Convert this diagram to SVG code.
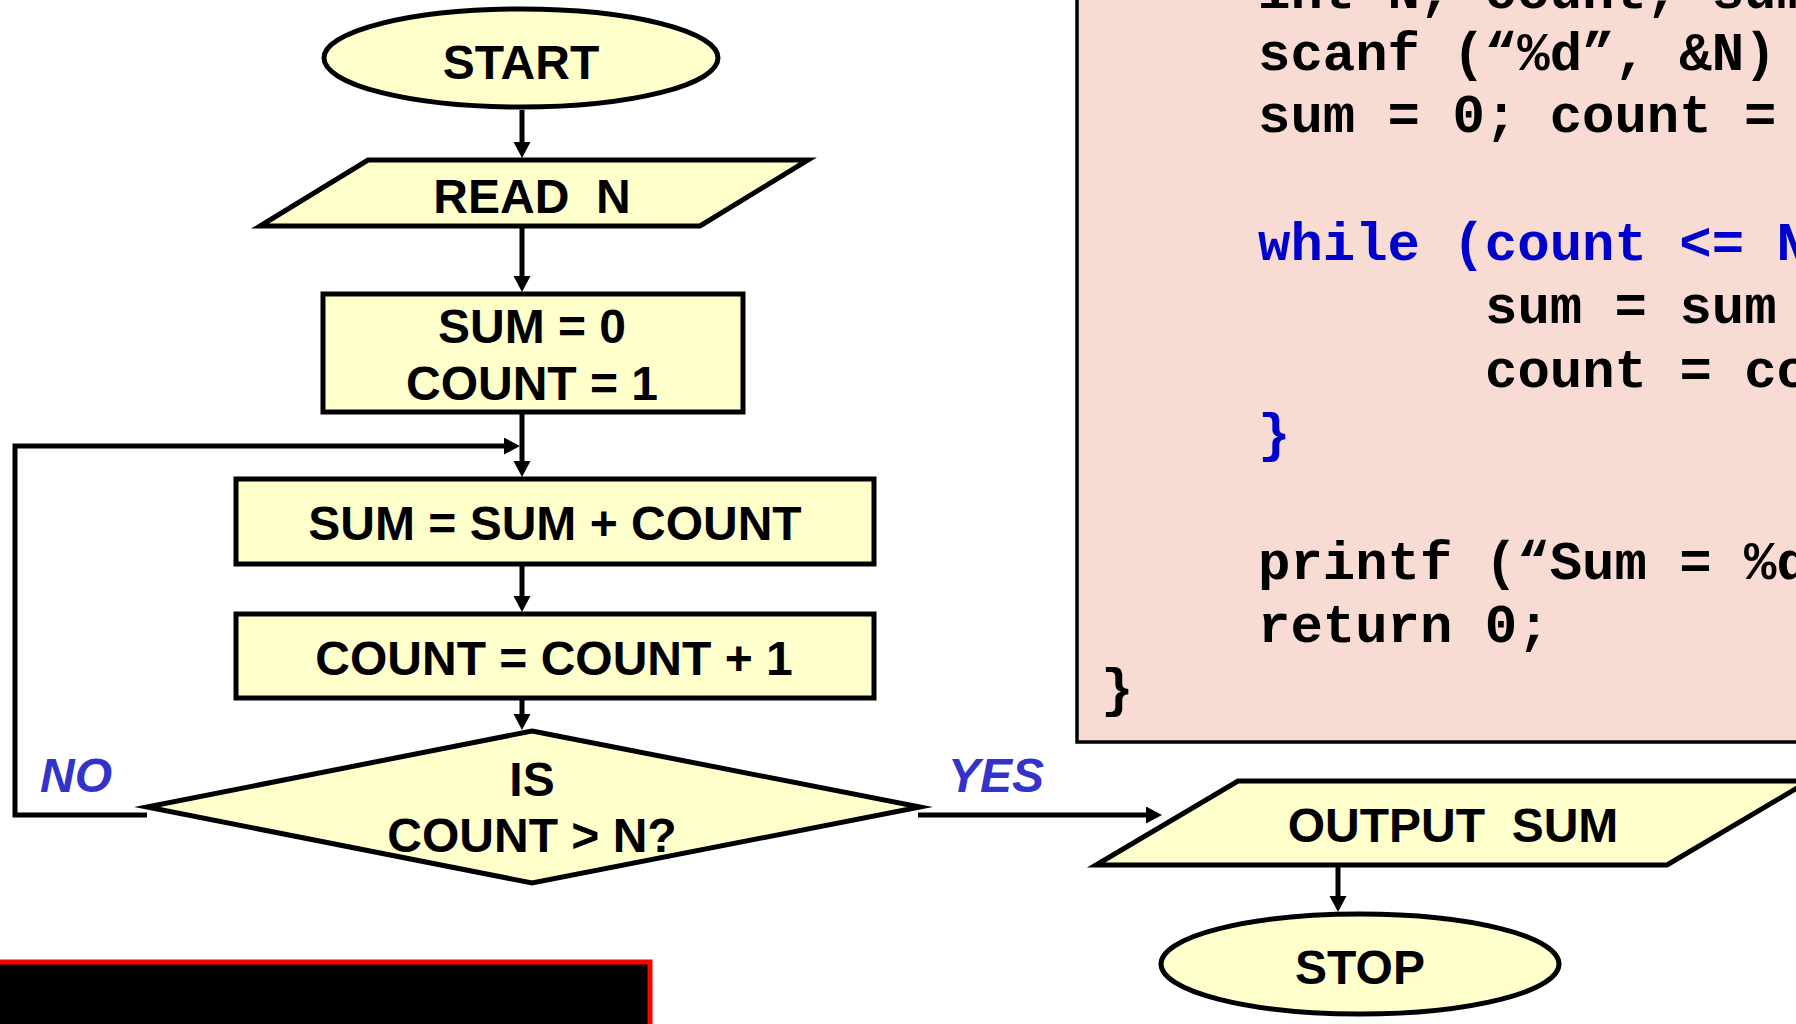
<svg xmlns="http://www.w3.org/2000/svg" width="1796" height="1024" viewBox="0 0 1796 1024">
<style>
.shape{fill:#FFFFCC;stroke:#000;stroke-width:5;stroke-miterlimit:10}
.lbl{font-family:"Liberation Sans",Arial,sans-serif;font-weight:bold;font-size:48px;fill:#000;text-anchor:middle}
.yn{font-family:"Liberation Sans",Arial,sans-serif;font-weight:bold;font-style:italic;font-size:48px;fill:#3333CC}
.code{font-family:"Liberation Mono","Courier New",monospace;font-weight:bold;font-size:54px;fill:#000}
.kw{fill:#0000CC}
.conn{fill:none;stroke:#000;stroke-width:5}
</style>
<defs>
<marker id="ah" markerUnits="userSpaceOnUse" markerWidth="18" markerHeight="18" refX="4" refY="8.5" orient="auto">
<path d="M0,0 L16,8.5 L0,17 z" fill="#000"/>
</marker>
</defs>
<rect width="1796" height="1024" fill="#FFFFFF"/>

<g id="code">
<rect x="1077" y="-10" width="740" height="752" fill="#F8DCD4" stroke="#000" stroke-width="3.5"/>
<text class="code" xml:space="preserve" x="1258" y="8">int N, count, sum;</text>
<text class="code" xml:space="preserve" x="1258" y="70">scanf (“%d”, &amp;N)</text>
<text class="code" xml:space="preserve" x="1258" y="132">sum = 0; count = 1;</text>
<text class="code kw" xml:space="preserve" x="1258" y="260">while (count &lt;= N) {</text>
<text class="code" xml:space="preserve" x="1485" y="323">sum = sum + count;</text>
<text class="code" xml:space="preserve" x="1485" y="387">count = count + 1;</text>
<text class="code kw" xml:space="preserve" x="1258" y="451">}</text>
<text class="code" xml:space="preserve" x="1258" y="579">printf (“Sum = %d\n”, sum);</text>
<text class="code" xml:space="preserve" x="1258" y="642">return 0;</text>
<text class="code" xml:space="preserve" x="1101" y="706">}</text>
</g>

<g id="connectors">
<path class="conn" d="M522,110 V146" marker-end="url(#ah)"/>
<path class="conn" d="M522,227 V280" marker-end="url(#ah)"/>
<path class="conn" d="M522,412 V465" marker-end="url(#ah)"/>
<path class="conn" d="M147,815 H15 V446 H508" marker-end="url(#ah)"/>
<path class="conn" d="M522,564 V600" marker-end="url(#ah)"/>
<path class="conn" d="M522,698 V718" marker-end="url(#ah)"/>
<path class="conn" d="M918,815 H1150" marker-end="url(#ah)"/>
<path class="conn" d="M1338,865 V900" marker-end="url(#ah)"/>
</g>

<g id="start">
<ellipse class="shape" cx="521" cy="58" rx="197" ry="49"/>
<text class="lbl" x="521" y="79">START</text>
</g>

<g id="read">
<polygon class="shape" points="368,160 808,160 700,226 260,226"/>
<text class="lbl" xml:space="preserve" x="532" y="213">READ  N</text>
</g>

<g id="init">
<rect class="shape" x="323" y="294" width="420" height="118"/>
<text class="lbl" x="532" y="343">SUM = 0</text>
<text class="lbl" x="532" y="400">COUNT = 1</text>
</g>

<g id="sum">
<rect class="shape" x="236" y="479" width="638" height="85"/>
<text class="lbl" x="555" y="540">SUM = SUM + COUNT</text>
</g>

<g id="count">
<rect class="shape" x="236" y="614" width="638" height="84"/>
<text class="lbl" x="554" y="675">COUNT = COUNT + 1</text>
</g>

<g id="decision">
<polygon class="shape" points="532,731 920,807 532,883 147,807"/>
<text class="lbl" x="532" y="796">IS</text>
<text class="lbl" x="532" y="852">COUNT &gt; N?</text>
</g>

<g id="labels">
<text class="yn" x="40" y="792">NO</text>
<text class="yn" x="948" y="792">YES</text>
</g>

<g id="output">
<polygon class="shape" points="1238,781 1809,781 1667,865 1096,865"/>
<text class="lbl" xml:space="preserve" x="1453" y="842">OUTPUT  SUM</text>
</g>

<g id="stop">
<ellipse class="shape" cx="1360" cy="964" rx="199" ry="50"/>
<text class="lbl" x="1360" y="984">STOP</text>
</g>

<g id="bar">
<rect x="-10" y="962" width="660" height="80" fill="#000" stroke="#FF0000" stroke-width="5"/>
</g>
</svg>
